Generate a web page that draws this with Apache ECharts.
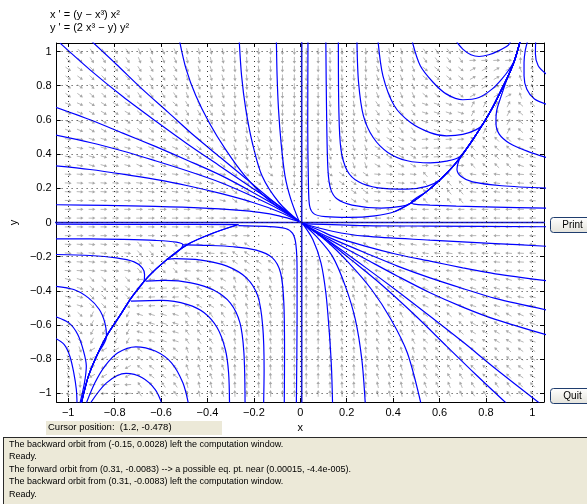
<!DOCTYPE html>
<html><head><meta charset="utf-8">
<script src="https://cdn.jsdelivr.net/npm/echarts@6/dist/echarts.min.js"></script>
<style>html,body{margin:0;padding:0;background:#fff;}#c{width:587px;height:504px;}</style>
</head><body><div id="c"></div>
<script>
// ---------- text ----------
const titleLines = ["x ' = (y \u2212 x\u00b3) x\u00b2", "y ' = (2 x\u00b3 \u2212 y) y\u00b2"];
const xAxisName = 'x';
const yAxisName = 'y';
const cursorText = 'Cursor position:  (1.2, -0.478)';
const messageLines = [
  'The backward orbit from (-0.15, 0.0028) left the computation window.',
  'Ready.',
  'The forward orbit from (0.31, -0.0083) --> a possible eq. pt. near (0.00015, -4.4e-005).',
  'The backward orbit from (0.31, -0.0083) left the computation window.',
  'Ready.'
];
const buttonLabels = ['Print', 'Quit'];

// ---------- axes ----------
const axisRange = [-1.05, 1.05];
const xTicks = [-1, -0.8, -0.6, -0.4, -0.2, 0, 0.2, 0.4, 0.6, 0.8, 1];
const xTickLabels = ['\u22121', '\u22120.8', '\u22120.6', '\u22120.4', '\u22120.2', '0', '0.2', '0.4', '0.6', '0.8', '1'];
const yTicks = [-1, -0.8, -0.6, -0.4, -0.2, 0, 0.2, 0.4, 0.6, 0.8, 1];
const yTickLabels = ['\u22121', '\u22120.8', '\u22120.6', '\u22120.4', '\u22120.2', '0', '0.2', '0.4', '0.6', '0.8', '1'];

// ---------- direction field (arrow angle in degrees, read per 0.2 cell; rows y=1..-1, cols x=-1..1) ----------
const fieldX = [-1, -0.8, -0.6, -0.4, -0.2, 0, 0.2, 0.4, 0.6, 0.8, 1];
const fieldY = [1, 0.8, 0.6, 0.4, 0.2, 0, -0.2, -0.4, -0.6, -0.8, -1];
const fieldAngles = [
  [-47, -56, -67, -78, -87, -90, -87, -77, -55, 3, 90],
  [-36, -45, -57, -72, -85, -90, -85, -69, -39, 29, 110],
  [-23, -31, -42, -61, -81, -90, -81, -55, -18, 63, 138],
  [-11, -16, -23, -39, -71, -90, -71, -30, 3, 135, 163],
  [-3, -4, -7, -13, -37, -90, -35, -5, 131, 173, 176],
  [0, 0, 0, 0, 0, null, 180, 180, 180, 180, 180],
  [-4, -7, -49, 175, 145, 90, 143, 167, 173, 176, 177],
  [-17, -45, -177, 150, 110, 90, 109, 141, 157, 164, 169],
  [-42, -117, 163, 125, 99, 90, 99, 119, 138, 149, 157],
  [-70, -151, 141, 111, 95, 90, 95, 108, 123, 135, 144],
  [-90, -177, 125, 103, 93, 90, 93, 102, 113, 124, 133]
];
const fieldCount = 40;        // arrows per row / column over [-1, 1]
const fieldDotZone = 0.23;    // near the equilibrium the arrows shrink to dots

// ---------- trajectories ----------
// top-left fan into the origin
const trTL1 = [[-1.035,1.049],[-0.906,0.893],[-0.765,0.737],[-0.625,0.595],[-0.485,0.458],[-0.344,0.328],[-0.204,0.199],[-0.092,0.098],[-0.005,0.006]];
const trTL2 = [[-0.899,1.06],[-0.793,0.926],[-0.681,0.780],[-0.569,0.644],[-0.457,0.507],[-0.344,0.380],[-0.232,0.254],[-0.120,0.127],[-0.005,0.006]];
const trTL3 = [[-1.06,0.677],[-0.906,0.601],[-0.765,0.523],[-0.625,0.445],[-0.485,0.363],[-0.344,0.277],[-0.204,0.176],[-0.092,0.088],[-0.005,0.006]];
const trTL4 = [[-1.06,0.513],[-0.906,0.468],[-0.765,0.418],[-0.625,0.361],[-0.485,0.301],[-0.344,0.234],[-0.204,0.152],[-0.092,0.078],[-0.005,0.006]];
const trTL5 = [[-1.06,0.332],[-0.906,0.310],[-0.765,0.283],[-0.625,0.252],[-0.485,0.215],[-0.344,0.170],[-0.204,0.117],[-0.092,0.063],[-0.005,0.006]];
const trTL6 = [[-1.06,0.104],[-0.836,0.100],[-0.625,0.094],[-0.415,0.084],[-0.274,0.072],[-0.176,0.059],[-0.092,0.039],[-0.005,0.006]];
const trTL7 = [[-0.520,1.06],[-0.492,0.897],[-0.450,0.741],[-0.393,0.585],[-0.323,0.429],[-0.239,0.273],[-0.141,0.137],[-0.005,0.006]];
const trTL8 = [[-0.263,1.06],[-0.253,0.858],[-0.235,0.663],[-0.207,0.468],[-0.165,0.273],[-0.092,0.117],[-0.005,0.006]];
const trTL9 = [[-0.103,1.06],[-0.100,0.858],[-0.094,0.663],[-0.083,0.468],[-0.066,0.273],[-0.041,0.137],[-0.005,0.006]];

// top-right attracting curve and the orbits that join it
const sepTR = [[0.405,0.063],[0.475,0.113],[0.545,0.182],[0.602,0.250],[0.658,0.328],[0.700,0.400],[0.742,0.482],[0.784,0.570],[0.826,0.667],[0.861,0.761],[0.896,0.858],[0.924,0.952],[0.947,1.06]];
const trV1 = [[0.033,1.06],[0.032,0.566],[0.035,0.234],[0.040,0.098],[0.061,0.049],[0.110,0.034],[0.209,0.030],[0.321,0.039]];
const trV2 = [[0.110,1.06],[0.113,0.663],[0.119,0.312],[0.131,0.195],[0.159,0.137],[0.223,0.102],[0.349,0.084],[0.433,0.094]];
const trV3 = [[0.164,1.06],[0.166,0.663],[0.175,0.429],[0.202,0.303],[0.251,0.238],[0.335,0.203],[0.461,0.195],[0.545,0.211]];
const trV4 = [[0.244,1.06],[0.251,0.819],[0.272,0.624],[0.314,0.497],[0.377,0.410],[0.461,0.361],[0.559,0.349],[0.630,0.359],[0.686,0.384]];
const trV5 = [[0.335,1.06],[0.356,0.858],[0.405,0.683],[0.475,0.585],[0.559,0.526],[0.630,0.507],[0.700,0.515],[0.756,0.542]];
const trU1 = [[0.482,1.06],[0.517,0.917],[0.573,0.819],[0.630,0.751],[0.700,0.718],[0.770,0.731],[0.826,0.780],[0.868,0.839],[0.903,0.901]];
const trU2 = [[0.672,1.06],[0.700,1.014],[0.735,0.981],[0.770,0.971],[0.812,0.981],[0.854,1.004],[0.896,1.037],[0.907,1.06]];
const trH1 = [[1.06,0.084],[0.840,0.090],[0.672,0.096],[0.559,0.102],[0.500,0.106],[0.478,0.116]];
const trH2 = [[1.06,0.201],[0.868,0.215],[0.742,0.238],[0.693,0.269],[0.675,0.312],[0.683,0.361]];
const trH3 = [[1.06,0.380],[0.980,0.416],[0.903,0.462],[0.857,0.517],[0.843,0.585],[0.846,0.653],[0.861,0.722]];
const trH4 = [[1.06,0.692],[1.009,0.722],[0.976,0.780],[0.964,0.858],[0.964,0.936],[0.969,1.004],[0.979,1.06]];
const trH5 = [[1.06,0.868],[1.025,0.917],[1.013,0.985],[1.014,1.06]];

// bottom-left attracting curve and the orbits around it
const sepBL = [[-0.267,-0.012],[-0.372,-0.060],[-0.485,-0.128],[-0.583,-0.226],[-0.653,-0.314],[-0.723,-0.431],[-0.779,-0.548],[-0.835,-0.665],[-0.878,-0.782],[-0.913,-0.899],[-0.944,-1.06]];
const trL1 = [[-1.06,-0.010],[-0.600,-0.011]];
const trL2 = [[-1.06,-0.096],[-0.906,-0.096],[-0.765,-0.099],[-0.625,-0.105],[-0.534,-0.115],[-0.506,-0.131],[-0.527,-0.168]];
const trL3 = [[-1.06,-0.187],[-0.906,-0.193],[-0.793,-0.207],[-0.716,-0.230],[-0.681,-0.265],[-0.671,-0.304],[-0.674,-0.343]];
const trL4 = [[-1.06,-0.372],[-0.976,-0.392],[-0.913,-0.441],[-0.866,-0.509],[-0.842,-0.587]];
const trL5 = [[-1.06,-0.548],[-0.997,-0.587],[-0.959,-0.655],[-0.934,-0.752],[-0.922,-0.840],[-0.930,-0.938],[-0.950,-1.06]];
const trL6 = [[-1.06,-0.674],[-1.018,-0.713],[-0.993,-0.782],[-0.976,-0.879],[-0.965,-0.977],[-0.962,-1.06]];
const trQ1 = [[-0.267,-0.018],[-0.148,-0.023],[-0.064,-0.035],[-0.033,-0.064],[-0.019,-0.129],[-0.014,-0.275],[-0.014,-0.567],[-0.017,-1.06]];
const trQ2 = [[-0.506,-0.131],[-0.400,-0.134],[-0.288,-0.142],[-0.190,-0.162],[-0.120,-0.207],[-0.085,-0.294],[-0.071,-0.470],[-0.068,-0.762],[-0.069,-1.06]];
const trQ3 = [[-0.576,-0.216],[-0.541,-0.211],[-0.428,-0.220],[-0.316,-0.255],[-0.232,-0.324],[-0.183,-0.431],[-0.162,-0.606],[-0.156,-0.860],[-0.158,-1.06]];
const trQ4 = [[-0.667,-0.343],[-0.583,-0.339],[-0.471,-0.353],[-0.372,-0.396],[-0.302,-0.470],[-0.260,-0.587],[-0.243,-0.762],[-0.238,-1.06]];
const trQ5 = [[-0.730,-0.460],[-0.597,-0.456],[-0.485,-0.480],[-0.414,-0.528],[-0.358,-0.616],[-0.323,-0.743],[-0.309,-0.879],[-0.305,-1.06]];
const trQ6 = [[-0.923,-1.06],[-0.885,-0.938],[-0.842,-0.840],[-0.786,-0.762],[-0.709,-0.727],[-0.625,-0.752],[-0.555,-0.821],[-0.506,-0.938],[-0.482,-1.06]];
const trQ7 = [[-0.906,-1.06],[-0.835,-0.938],[-0.751,-0.883],[-0.681,-0.908],[-0.625,-0.977],[-0.596,-1.06]];

// bottom-right fan out of the origin
const trR1 = [[0.010,-0.006],[0.279,-0.018],[0.559,-0.021],[1.06,-0.025]];
const trR2 = [[0.010,-0.006],[0.138,-0.051],[0.279,-0.080],[0.559,-0.103],[0.840,-0.123],[1.06,-0.139]];
const trR3 = [[0.010,-0.006],[0.082,-0.045],[0.138,-0.080],[0.279,-0.138],[0.419,-0.187],[0.559,-0.226],[0.700,-0.265],[0.840,-0.300],[1.06,-0.340]];
const trR4 = [[0.010,-0.006],[0.082,-0.060],[0.138,-0.096],[0.279,-0.177],[0.419,-0.255],[0.559,-0.324],[0.700,-0.386],[0.840,-0.444],[1.06,-0.511]];
const trR5 = [[0.010,-0.006],[0.082,-0.066],[0.138,-0.109],[0.279,-0.212],[0.419,-0.314],[0.559,-0.411],[0.700,-0.495],[0.840,-0.567],[1.06,-0.657]];
const trB1 = [[0.010,-0.006],[0.138,-0.123],[0.279,-0.261],[0.419,-0.402],[0.559,-0.548],[0.700,-0.698],[0.840,-0.854],[1.034,-1.06]];
const trB2 = [[0.010,-0.006],[0.110,-0.099],[0.209,-0.207],[0.349,-0.363],[0.500,-0.550],[0.630,-0.723],[0.756,-0.889],[0.890,-1.06]];
const trB3 = [[0.010,-0.006],[0.110,-0.105],[0.209,-0.236],[0.307,-0.392],[0.391,-0.567],[0.461,-0.762],[0.520,-1.06]];
const trB4 = [[0.010,-0.006],[0.068,-0.080],[0.138,-0.197],[0.194,-0.372],[0.237,-0.567],[0.265,-0.801],[0.280,-1.06]];
const trB5 = [[0.010,-0.006],[0.054,-0.099],[0.089,-0.236],[0.110,-0.411],[0.124,-0.626],[0.134,-0.840],[0.139,-1.06]];

// invariant axes
const trAxisX = [[0.006,-1.06],[0.006,1.06]];
const trAxisY = [[-1.06,0],[1.06,0]];

// ---------- assemble ----------
function joinFrom(head, curve, startIdx) { return head.concat(curve.slice(startIdx)); }
const trajectories = [
  trTL1, trTL2, trTL3, trTL4, trTL5, trTL6, trTL7, trTL8, trTL9,
  sepTR,
  joinFrom(trV1, sepTR, 0), joinFrom(trV2, sepTR, 1), joinFrom(trV3, sepTR, 3),
  joinFrom(trV4, sepTR, 6), joinFrom(trV5, sepTR, 7), joinFrom(trU1, sepTR, 11), trU2,
  joinFrom(trH1, sepTR, 2), joinFrom(trH2, sepTR, 5), joinFrom(trH3, sepTR, 10), trH4, trH5,
  sepBL,
  joinFrom(trL1, sepBL, 0), joinFrom(trL2, sepBL, 3), joinFrom(trL3, sepBL, 5), joinFrom(trL4, sepBL, 7),
  trL5, trL6, trQ1, trQ2, trQ3, trQ4, trQ5, trQ6, trQ7,
  trR1, trR2, trR3, trR4, trR5, trB1, trB2, trB3, trB4, trB5
];

const fieldData = [];
for (let i = 0; i < fieldCount; i++) {
  for (let j = 0; j < fieldCount; j++) {
    const fx = -1 + 2 * i / (fieldCount - 1);
    const fy = -1 + 2 * j / (fieldCount - 1);
    const ci = Math.round((fx + 1) / 0.2);
    const ri = Math.round((1 - fy) / 0.2);
    const ang = fieldAngles[ri][ci];
    const dot = (Math.abs(fx) < fieldDotZone && Math.abs(fy) < fieldDotZone) || ang === null ? 1 : 0;
    fieldData.push([fx, fy, ang === null ? 0 : ang, dot]);
  }
}

const FONT = '"Liberation Sans", Arial, sans-serif';
function fmt(ticks, labels) {
  return v => { let k = 0, b = 1e9; ticks.forEach((t, i) => { const d = Math.abs(t - v); if (d < b) { b = d; k = i; } }); return labels[k]; };
}
function axis(pos, ticks, labels, showLabel, extra) {
  return Object.assign({
    type: 'value', position: pos, min: axisRange[0], max: axisRange[1],
    splitLine: { show: false },
    axisLine: { show: true, onZero: false, lineStyle: { color: '#000', width: 1 } },
    axisTick: { show: true, inside: true, length: 4, customValues: ticks, lineStyle: { color: '#000', width: 1 } },
    axisLabel: { show: showLabel, customValues: ticks, formatter: fmt(ticks, labels), color: '#000', fontSize: 11, fontFamily: FONT, margin: 5 }
  }, extra || {});
}

const chart = echarts.init(document.getElementById('c'), null, { renderer: 'canvas' });

const series = [];
series.push({
  type: 'custom', z: 1, silent: true, animation: false, data: fieldData, clip: true,
  renderItem: function (params, api) {
    const c = api.coord([api.value(0), api.value(1)]);
    if (api.value(3) === 1) {
      return { type: 'rect', shape: { x: c[0] - 0.6, y: c[1] - 0.6, width: 1.2, height: 1.2 }, style: { fill: '#8a8a8a' } };
    }
    const r = api.value(2) * Math.PI / 180;
    const dx = Math.cos(r), dy = -Math.sin(r);
    const L = 3.4;
    const x1 = c[0] - dx * L, y1 = c[1] - dy * L, x2 = c[0] + dx * L, y2 = c[1] + dy * L;
    const hb = 2.8, hw = 1.7;
    return { type: 'group', children: [
      { type: 'line', shape: { x1: x1, y1: y1, x2: x2 - dx * 1.5, y2: y2 - dy * 1.5 }, style: { stroke: '#b8b8b8', lineWidth: 1 } },
      { type: 'polygon', shape: { points: [[x2, y2], [x2 - dx * hb - dy * hw, y2 - dy * hb + dx * hw], [x2 - dx * hb + dy * hw, y2 - dy * hb - dx * hw]] }, style: { fill: '#a8a8a8' } }
    ] };
  }
});
// dotted grid
series.push({
  type: 'line', data: [], z: 2, silent: true, animation: false,
  markLine: {
    silent: true, symbol: 'none', animation: false, label: { show: false },
    lineStyle: { color: '#111', width: 1, type: [1, 4], opacity: 0.85 },
    data: xTicks.map(v => ({ xAxis: v })).concat(yTicks.map(v => ({ yAxis: v })))
  }
});
[trAxisX, trAxisY].forEach(d => series.push({
  type: 'line', data: d, z: 3, symbol: 'none', silent: true, animation: false,
  lineStyle: { color: '#1a1ad0', width: 1.6 }
}));
trajectories.forEach(d => series.push({
  type: 'line', data: d, z: 4, symbol: 'none', showSymbol: false, silent: true, animation: false,
  smooth: 0.3, lineStyle: { color: '#0000ff', width: 1.2 }
}));

function button(label, top) {
  return { type: 'group', left: 550, top: top, children: [
    { type: 'rect', shape: { x: 0, y: 0, width: 45, height: 15, r: 3 },
      style: { fill: new echarts.graphic.LinearGradient(0, 0, 0, 1, [{ offset: 0, color: '#ffffff' }, { offset: 1, color: '#e3e2da' }]), stroke: '#1f3d6e', lineWidth: 1 } },
    { type: 'text', x: 22, y: 7.5, style: { text: label, font: '10px ' + FONT, fill: '#000', align: 'center', verticalAlign: 'middle' } }
  ] };
}

const graphic = [
  { type: 'text', left: 50, top: 9, style: { text: titleLines[0], font: '11px ' + FONT, fill: '#000' } },
  { type: 'text', left: 50, top: 22, style: { text: titleLines[1], font: '11px ' + FONT, fill: '#000' } },
  button(buttonLabels[0], 217),
  button(buttonLabels[1], 388),
  { type: 'rect', left: 46, top: 421, shape: { width: 176, height: 14 }, style: { fill: '#ece9d8' } },
  { type: 'text', left: 48, top: 422.5, style: { text: cursorText, font: '9.5px ' + FONT, fill: '#000' } },
  { type: 'rect', left: 3, top: 437, shape: { width: 584, height: 67 }, style: { fill: '#ece9d8' } },
  { type: 'rect', left: 3, top: 437, shape: { width: 584, height: 1 }, style: { fill: '#2a2a2a' } },
  { type: 'rect', left: 3, top: 437, shape: { width: 1, height: 67 }, style: { fill: '#2a2a2a' } }
];
messageLines.forEach((t, i) => graphic.push({ type: 'text', left: 9, top: 440 + i * 12.5, style: { text: t, font: '9px ' + FONT, fill: '#000' } }));

chart.setOption({
  animation: false,
  backgroundColor: '#ffffff',
  grid: { left: 46, top: 43, width: 498, height: 359, containLabel: false },
  xAxis: [
    axis('bottom', xTicks, xTickLabels, true, { name: xAxisName, nameLocation: 'middle', nameGap: 18, nameTextStyle: { color: '#000', fontSize: 11, fontFamily: FONT } }),
    axis('top', xTicks, xTickLabels, false)
  ],
  yAxis: [
    axis('left', yTicks, yTickLabels, true, { name: yAxisName, nameLocation: 'middle', nameGap: 36, nameRotate: 90, nameTextStyle: { color: '#000', fontSize: 11, fontFamily: FONT } }),
    axis('right', yTicks, yTickLabels, false)
  ],
  series: series,
  graphic: graphic
});
</script>
</body></html>
